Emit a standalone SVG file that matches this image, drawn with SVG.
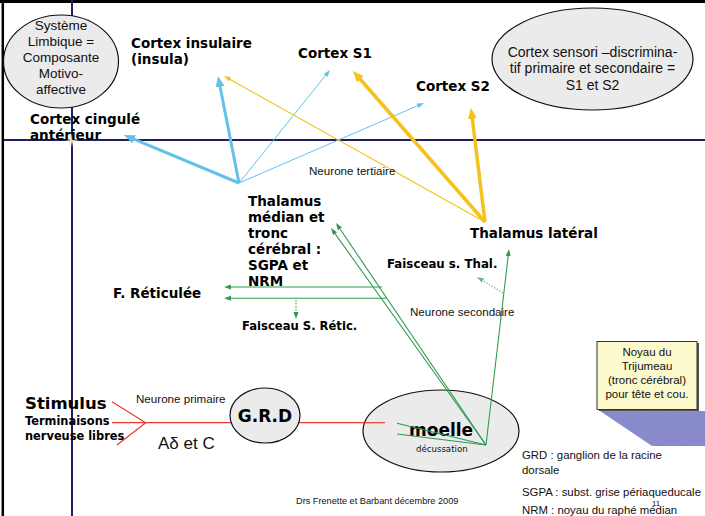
<svg xmlns="http://www.w3.org/2000/svg" width="705" height="516" viewBox="0 0 705 516">
<style>
.b{font-family:"DejaVu Sans",sans-serif;font-weight:bold;fill:#000}
.r{font-family:"Liberation Sans",Arial,sans-serif;fill:#111}
.t{font-family:"DejaVu Sans",sans-serif;fill:#111}
.bl{stroke:#63c1ea;fill:none}
.ye{stroke:#f5c21b;fill:none}
.gr{stroke:#2f9a52;stroke-width:1.1;fill:none}
.ell{fill:#ebebeb;stroke:#111;stroke-width:1.2}
</style>
<defs>
<marker id="bT" markerUnits="userSpaceOnUse" markerWidth="12" markerHeight="10" refX="1" refY="4.5" orient="auto"><path d="M0,0 L11,4.5 L0,9 z" fill="#63c1ea"/></marker>
<marker id="bt" markerUnits="userSpaceOnUse" markerWidth="8" markerHeight="6" refX="1" refY="2.5" orient="auto"><path d="M0,0 L7,2.5 L0,5 z" fill="#63c1ea"/></marker>
<marker id="yT" markerUnits="userSpaceOnUse" markerWidth="12" markerHeight="10" refX="1" refY="4.5" orient="auto"><path d="M0,0 L11,4.5 L0,9 z" fill="#f5c21b"/></marker>
<marker id="yt" markerUnits="userSpaceOnUse" markerWidth="8" markerHeight="6" refX="1" refY="2.5" orient="auto"><path d="M0,0 L7,2.5 L0,5 z" fill="#f5c21b"/></marker>
<marker id="g" markerUnits="userSpaceOnUse" markerWidth="8" markerHeight="6" refX="1" refY="2.5" orient="auto"><path d="M0,0 L7,2.5 L0,5 z" fill="#2f9a52"/></marker>
<marker id="gl" markerUnits="userSpaceOnUse" markerWidth="8" markerHeight="6" refX="1" refY="2.5" orient="auto"><path d="M0,0 L7,2.5 L0,5 z" fill="#6fb889"/></marker>
<radialGradient id="glow"><stop offset="0" stop-color="#fffbe0"/><stop offset="0.5" stop-color="#f4eeb0" stop-opacity="0.6"/><stop offset="1" stop-color="#ffffff" stop-opacity="0"/></radialGradient>
<pattern id="hatch" width="3" height="3" patternUnits="userSpaceOnUse"><rect width="3" height="3" fill="#8587c8"/><path d="M0,3 L3,0" stroke="#9496d2" stroke-width="0.8"/></pattern>
</defs>
<rect width="705" height="516" fill="#fff"/>
<g id="frame">
<line x1="0" y1="1.5" x2="705" y2="1.5" stroke="#000" stroke-width="3"/>
<line x1="2.8" y1="0" x2="2.8" y2="516" stroke="#000" stroke-width="2.5"/>
<line x1="4" y1="140" x2="705" y2="140" stroke="#1f1f66" stroke-width="2"/>
<line x1="72" y1="0" x2="72" y2="516" stroke="#1f1f66" stroke-width="2"/>
<circle cx="72" cy="140" r="7" fill="url(#glow)"/>
</g>

<g id="connectors">
<line x1="112" y1="422.7" x2="385" y2="422.7" stroke="#e8392f" stroke-width="1.2"/>
<path d="M112,401.7 L145.7,422.7 L117,445" stroke="#e8392f" stroke-width="1.2" fill="none"/>
</g>

<g id="node-limbique">
<ellipse class="ell" cx="61" cy="61.5" rx="57.5" ry="46.5"/>
<text class="r" font-size="13.5" text-anchor="middle" x="61"><tspan x="61" y="29.5">Système</tspan><tspan x="61" y="45.5">Limbique =</tspan><tspan x="61" y="61.5">Composante</tspan><tspan x="61" y="77.5">Motivo-</tspan><tspan x="61" y="93.5">affective</tspan></text>
</g>
<g id="node-sensori">
<ellipse class="ell" cx="592.5" cy="59" rx="100.5" ry="51"/>
<text class="r" font-size="14" text-anchor="middle"><tspan x="592.5" y="56.5">Cortex sensori –discrimina-</tspan><tspan x="592.5" y="73">tif primaire et secondaire =</tspan><tspan x="592.5" y="89.5">S1 et S2</tspan></text>
</g>
<g id="node-insula"><text class="b" font-size="13.5"><tspan x="131" y="48">Cortex insulaire</tspan><tspan x="131" y="64">(insula)</tspan></text></g>
<g id="node-cingule"><text class="b" font-size="13.5"><tspan x="30" y="124">Cortex cingulé</tspan><tspan x="30" y="139.5">antérieur</tspan></text></g>
<g id="node-s1"><text class="b" font-size="13.5" x="298" y="58">Cortex S1</text></g>
<g id="node-s2"><text class="b" font-size="13.5" x="416" y="91">Cortex S2</text></g>
<g id="node-thal-median"><text class="b" font-size="13.5"><tspan x="248" y="205.5">Thalamus</tspan><tspan x="248" y="221.5">médian et</tspan><tspan x="248" y="237.5">tronc</tspan><tspan x="248" y="253.5">cérébral :</tspan><tspan x="248" y="269.5">SGPA et</tspan><tspan x="248" y="285.5">NRM</tspan></text></g>
<g id="node-thal-lateral"><text class="b" font-size="13.5" x="470" y="238">Thalamus latéral</text></g>
<g id="node-reticulee"><text class="b" font-size="13.5" x="113" y="298">F. Réticulée</text></g>
<g id="node-faisc-thal"><text class="b" font-size="11.8" x="387" y="268">Faisceau s. Thal.</text></g>
<g id="node-faisc-retic"><text class="b" font-size="11.6" x="242" y="329.5">Faisceau S. Rétic.</text></g>
<g id="node-stimulus">
<text class="b" font-size="16.5" x="25" y="409">Stimulus</text>
<text class="b" font-size="11.4"><tspan x="25" y="425">Terminaisons</tspan><tspan x="25" y="439.5">nerveuse libres</tspan></text>
</g>
<g id="node-grd">
<ellipse class="ell" cx="265" cy="415.5" rx="35" ry="27.5"/>
<text class="b" font-size="17" text-anchor="middle" x="265" y="421.5">G.R.D</text>
</g>
<g id="node-moelle">
<ellipse class="ell" cx="441" cy="431" rx="78" ry="41"/>
<line x1="363" y1="422.7" x2="385" y2="422.7" stroke="#e8392f" stroke-width="1.2"/>
<text class="b" font-size="17" x="409" y="436">moelle</text>
<text class="t" font-size="8.6" x="416" y="452" fill="#333">décussation</text>
</g>
<g id="node-trijumeau">
<polygon points="600,411 705,411 705,446 652,446" fill="url(#hatch)"/>
<rect x="599" y="343" width="100" height="68" fill="#555"/>
<rect x="597" y="341.5" width="100" height="68" fill="#fcf9cc" stroke="#333" stroke-width="1"/>
<text class="r" font-size="11.5" text-anchor="middle"><tspan x="647" y="356">Noyau du</tspan><tspan x="647" y="370">Trijumeau</tspan><tspan x="647" y="384">(tronc cérébral)</tspan><tspan x="647" y="397.5">pour tête et cou.</tspan></text>
</g>

<g id="connectors-arrows">
<line class="bl" stroke-width="3" x1="239" y1="183" x2="133.2" y2="138.9" marker-end="url(#bT)"/>
<line class="bl" stroke-width="3" x1="239" y1="183" x2="219.9" y2="85.8" marker-end="url(#bT)"/>
<line class="bl" stroke-width="1" x1="239" y1="183" x2="326.2" y2="74.7" marker-end="url(#bt)"/>
<line class="bl" stroke-width="1" x1="239" y1="183" x2="418.5" y2="105.4" marker-end="url(#bt)"/>
<line class="ye" stroke-width="1.1" x1="485" y1="222" x2="229.2" y2="78.9" marker-end="url(#yt)"/>
<line class="ye" stroke-width="3.5" x1="485" y1="222" x2="359.6" y2="78.5" marker-end="url(#yT)"/>
<line class="ye" stroke-width="3.5" x1="485" y1="222" x2="472.2" y2="117.9" marker-end="url(#yT)"/>
<line class="gr" x1="486" y1="445" x2="339.4" y2="228" marker-end="url(#g)"/>
<line class="gr" x1="486" y1="445" x2="334.5" y2="232.9" marker-end="url(#g)"/>
<line class="gr" x1="486" y1="445" x2="508.3" y2="255" marker-end="url(#g)"/>
<line class="gr" x1="486" y1="445" x2="397" y2="423.3"/>
<line class="gr" x1="486" y1="445" x2="397" y2="434"/>
<line class="gr" x1="382" y1="287" x2="230" y2="287" marker-end="url(#g)"/>
<line class="gr" x1="386" y1="298.3" x2="230" y2="298.3" marker-end="url(#g)"/>
<line class="gr" stroke-dasharray="1.5,1.5" x1="296" y1="300" x2="296" y2="313" marker-end="url(#g)"/>
<line stroke="#6fb889" stroke-width="1.1" stroke-dasharray="1.5,1.5" x1="503" y1="293" x2="482.1" y2="280.1" marker-end="url(#gl)"/>
</g>

<g id="labels">
<text class="r" font-size="11.6" x="309" y="175">Neurone tertiaire</text>
<text class="r" font-size="11.6" x="410" y="316">Neurone secondaire</text>
<text class="r" font-size="11.6" x="136" y="403">Neurone primaire</text>
<text class="r" font-size="17" x="158" y="449">Aδ et C</text>
<text class="r" font-size="9.2" x="296" y="504" fill="#222">Drs Frenette et Barbant décembre 2009</text>
<text class="r" font-size="11.4" fill="#111"><tspan x="522" y="459">GRD : ganglion de la racine</tspan><tspan x="522" y="474">dorsale</tspan><tspan x="522" y="496">SGPA : subst. grise périaqueducale</tspan><tspan x="522" y="514">NRM : noyau du raphé médian</tspan></text>
<text class="r" font-size="8" x="652" y="505.5" fill="#111">11</text>
</g>
</svg>
